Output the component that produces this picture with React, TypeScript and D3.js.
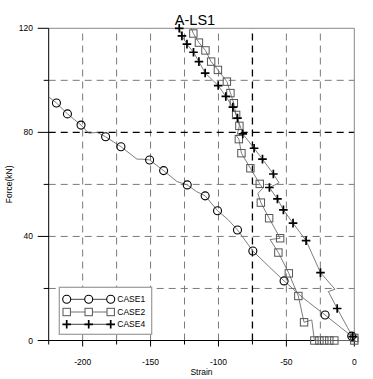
import React, { useRef, useEffect } from "react";
import * as d3 from "d3";

type Pt = [number, number];

// strain, force(kN)
const case1Line: Pt[] = [
  [-224.7, 93.5], [-219.3, 91.3], [-211.2, 87.1], [-201.2, 82.8], [-195.6, 79.7],
  [-189.4, 80.0], [-183.1, 78.3], [-171.8, 74.5], [-160, 69.7], [-156.3, 69.7],
  [-150.7, 69.4], [-140.4, 65.3], [-130.6, 61.1], [-123.0, 59.8], [-116, 57.2],
  [-109.8, 55.6], [-100.7, 49.9], [-93, 46.5], [-86.0, 42.5], [-74.7, 34.4],
  [-63, 28.5], [-51.7, 22.9], [-38, 16.5], [-21.5, 9.8], [-10, 5], [-1.9, 1.7], [0, 0],
];
const case1Marks: Pt[] = [
  [-219.3, 91.3], [-211.2, 87.1], [-201.2, 82.8], [-183.1, 78.3], [-171.8, 74.5],
  [-150.7, 69.4], [-140.4, 65.3], [-123.0, 59.8], [-109.8, 55.6], [-100.7, 49.9],
  [-86.0, 42.5], [-74.7, 34.4], [-51.7, 22.9], [-21.5, 9.8], [-1.9, 1.7],
];

const case2Line: Pt[] = [
  [-120, 120], [-118.5, 118], [-114.4, 114.5], [-109.6, 111.5], [-105.4, 107.2],
  [-100.4, 104.0], [-93.8, 99.5], [-91.2, 95.1], [-88.7, 91.2], [-87.0, 86.7],
  [-84.6, 82.5], [-86.5, 78.5], [-85.0, 77.4], [-83.1, 72.0], [-76.5, 66.2],
  [-69.6, 60.2], [-67.5, 58.5], [-71, 56.5], [-68.8, 53.0], [-62.7, 47.0],
  [-54.6, 39.3], [-62, 38.8], [-55.9, 33.8], [-48.2, 25.8], [-41.2, 17.1],
  [-37.0, 7.0], [-31.3, 7.9], [-29.4, 0], [-14.7, 0], [0, 0],
];
const case2Marks: Pt[] = [
  [-118.5, 118], [-114.4, 114.5], [-109.6, 111.5], [-105.4, 107.2], [-100.4, 104.0],
  [-93.8, 99.5], [-91.2, 95.1], [-88.7, 91.2], [-87.0, 86.7], [-84.6, 82.5],
  [-85.0, 77.4], [-83.1, 72.0], [-76.5, 66.2], [-69.6, 60.2], [-68.8, 53.0],
  [-62.7, 47.0], [-54.6, 39.3], [-55.9, 33.8], [-48.2, 25.8], [-41.2, 17.1],
  [-37.0, 7.0], [-29.4, 0], [-25.7, 0], [-22.1, 0], [-18.4, 0], [-14.7, 0],
  [0, 0], [0, 1],
];

const case4Line: Pt[] = [
  [-128.9, 120], [-126.9, 117.1], [-123.2, 113.9], [-118.4, 110.8], [-114.4, 107.2],
  [-109.8, 102.8], [-100.2, 98.0], [-94.6, 93.8], [-89.4, 89.7], [-86.0, 85.5],
  [-82.1, 79.4], [-73.8, 73.9], [-67.6, 69.7], [-59.6, 64.0], [-55.4, 60.6],
  [-62.5, 58.8], [-56.6, 54.4], [-52.2, 50.2], [-45.1, 45.1], [-35.5, 38.4],
  [-24.9, 26.1], [-14.2, 19.7], [-19.1, 18.8], [-12.6, 12.3], [-5, 5], [-1.2, 1.5], [0, 0],
];
const case4Marks: Pt[] = [
  [-128.9, 120], [-126.9, 117.1], [-123.2, 113.9], [-118.4, 110.8], [-114.4, 107.2],
  [-109.8, 102.8], [-100.2, 98.0], [-94.6, 93.8], [-89.4, 89.7], [-86.0, 85.5],
  [-82.1, 79.4], [-73.8, 73.9], [-67.6, 69.7], [-59.6, 64.0], [-62.5, 58.8],
  [-56.6, 54.4], [-52.2, 50.2], [-45.1, 45.1], [-35.5, 38.4], [-24.9, 26.1],
  [-12.6, 12.3], [-1.2, 1.5],
];

const xTicks = [-200, -150, -100, -50, 0];
const xMinor = [-225, -175, -125, -75, -25];
const yTicks = [0, 40, 80, 120];
const yMinor = [20, 60, 100];
const xGrid = [-200, -175, -150, -125, -100, -50, -25];
const yGrid = [20, 40, 60, 100];
const legendNames = ["CASE1", "CASE2", "CASE4"];

const FONT = "'Liberation Sans', Arial, sans-serif";

const App = () => {
  const svgRef = useRef<SVGSVGElement>(null);

  useEffect(() => {
    const svg = d3.select(svgRef.current);
    svg.selectAll("*").remove();

    const x = d3.scaleLinear().domain([-225, 0]).range([48.7, 354.3]);
    const y = d3.scaleLinear().domain([0, 120]).range([340.5, 28.3]);
    const [x0, x1] = x.range();
    const [y0, y1] = y.range();

    // grid
    const grid = svg.append("g").attr("fill", "none");
    grid.selectAll("line.gx").data(xGrid).enter().append("line")
      .attr("x1", (d) => x(d)).attr("x2", (d) => x(d))
      .attr("y1", y0).attr("y2", y1)
      .attr("stroke", "#7a7a7a").attr("stroke-dasharray", "7,5");
    grid.selectAll("line.gy").data(yGrid).enter().append("line")
      .attr("y1", (d) => y(d)).attr("y2", (d) => y(d))
      .attr("x1", x0).attr("x2", x1)
      .attr("stroke", "#7a7a7a").attr("stroke-dasharray", "7,5");
    // reference lines
    grid.append("line")
      .attr("x1", x(-75)).attr("x2", x(-75)).attr("y1", y0).attr("y2", y1)
      .attr("stroke", "#000").attr("stroke-width", 1.3).attr("stroke-dasharray", "7,5");
    grid.append("line")
      .attr("x1", x0).attr("x2", x1).attr("y1", y(80)).attr("y2", y(80))
      .attr("stroke", "#000").attr("stroke-width", 1.3).attr("stroke-dasharray", "7,5");

    // frame
    svg.append("line").attr("x1", x0).attr("x2", x1).attr("y1", y1).attr("y2", y1).attr("stroke", "#888");
    svg.append("line").attr("x1", x1).attr("x2", x1).attr("y1", y1).attr("y2", y0).attr("stroke", "#888");
    svg.append("line").attr("x1", x0).attr("x2", x1 + 1).attr("y1", y0).attr("y2", y0).attr("stroke", "#000");
    svg.append("line").attr("x1", x0).attr("x2", x0).attr("y1", y1).attr("y2", y0).attr("stroke", "#000");

    // ticks
    const ticks = svg.append("g").attr("stroke", "#000");
    ticks.selectAll("line.xt").data(xTicks).enter().append("line")
      .attr("x1", (d) => x(d)).attr("x2", (d) => x(d)).attr("y1", y0).attr("y2", y0 + 6);
    ticks.selectAll("line.xm").data(xMinor).enter().append("line")
      .attr("x1", (d) => x(d)).attr("x2", (d) => x(d)).attr("y1", y0).attr("y2", y0 + 4);
    ticks.selectAll("line.yt").data(yTicks).enter().append("line")
      .attr("y1", (d) => y(d)).attr("y2", (d) => y(d)).attr("x1", x0 - 11).attr("x2", x0);
    ticks.selectAll("line.ym").data(yMinor).enter().append("line")
      .attr("y1", (d) => y(d)).attr("y2", (d) => y(d)).attr("x1", x0 - 5).attr("x2", x0);

    const labels = svg.append("g").attr("font-family", FONT).attr("font-size", 8.5).attr("fill", "#000");
    labels.selectAll("text.xl").data(xTicks).enter().append("text")
      .attr("x", (d) => x(d)).attr("y", 364.5).attr("text-anchor", "middle")
      .text((d) => d);
    labels.selectAll("text.yl").data(yTicks).enter().append("text")
      .attr("x", 33).attr("y", (d) => y(d) + 3).attr("text-anchor", "end")
      .text((d) => d);
    labels.append("text").attr("x", (x0 + x1) / 2).attr("y", 375)
      .attr("text-anchor", "middle").text("Strain");
    labels.append("text")
      .attr("transform", `translate(11.5, ${(y0 + y1) / 2}) rotate(-90)`)
      .attr("text-anchor", "middle").text("Force(kN)");

    svg.append("text").attr("x", 195).attr("y", 24.5)
      .attr("text-anchor", "middle").attr("font-family", FONT).attr("font-size", 14.5)
      .text("A-LS1");

    // series lines
    const line = d3.line<Pt>().x((d) => x(d[0])).y((d) => y(d[1]));
    const plot = svg.append("g").attr("fill", "none");
    [case1Line, case2Line, case4Line].forEach((data) => {
      plot.append("path").attr("d", line(data)).attr("stroke", "#6e6e6e").attr("stroke-width", 0.9);
    });

    // markers
    plot.selectAll("circle.c1").data(case1Marks).enter().append("circle")
      .attr("cx", (d) => x(d[0])).attr("cy", (d) => y(d[1])).attr("r", 4)
      .attr("stroke", "#000").attr("stroke-width", 1.1);
    plot.selectAll("rect.c2").data(case2Marks).enter().append("rect")
      .attr("x", (d) => x(d[0]) - 3.7).attr("y", (d) => y(d[1]) - 3.7)
      .attr("width", 7.4).attr("height", 7.4)
      .attr("stroke", "#555").attr("stroke-width", 1);
    const plus = (g: any, cx: number, cy: number) => {
      g.append("path")
        .attr("d", `M${cx - 4.3},${cy}H${cx + 4.3}M${cx},${cy - 4.3}V${cy + 4.3}`)
        .attr("stroke", "#000").attr("stroke-width", 1.7);
    };
    case4Marks.forEach((d) => plus(plot, x(d[0]), y(d[1])));

    // legend
    const lg = svg.append("g");
    lg.append("rect").attr("x", 59.3).attr("y", 287.3).attr("width", 92.4).attr("height", 47)
      .attr("fill", "#fff").attr("stroke", "#999").attr("stroke-width", 1.2);
    const rows = [299.3, 312, 324.3];
    const mx = [66.7, 88.7, 110.7];
    legendNames.forEach((name, i) => {
      const ry = rows[i];
      lg.append("line").attr("x1", mx[0]).attr("x2", mx[2]).attr("y1", ry).attr("y2", ry)
        .attr("stroke", i === 1 ? "#b8b8b8" : "#444").attr("stroke-width", i === 1 ? 2 : 1);
      mx.forEach((cx) => {
        if (i === 0) {
          lg.append("circle").attr("cx", cx).attr("cy", ry).attr("r", 4)
            .attr("fill", "#fff").attr("stroke", "#000").attr("stroke-width", 1.1);
        } else if (i === 1) {
          lg.append("rect").attr("x", cx - 3.7).attr("y", ry - 3.7).attr("width", 7.4).attr("height", 7.4)
            .attr("fill", "#fff").attr("stroke", "#555");
        } else {
          plus(lg, cx, ry);
        }
      });
      lg.append("text").attr("x", 117.3).attr("y", ry + 3)
        .attr("font-family", FONT).attr("font-size", 8.5).text(name);
    });
  }, []);

  return (
    <svg
      ref={svgRef}
      width={373}
      height={379}
      style={{ position: "absolute", left: 0, top: 0, background: "#fff" }}
    />
  );
};

export default App;
